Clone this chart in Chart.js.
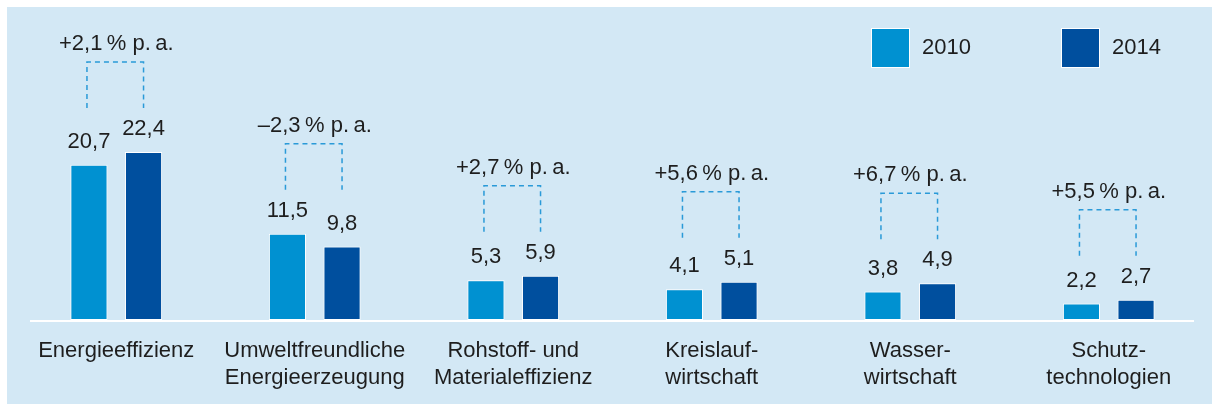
<!DOCTYPE html>
<html>
<head>
<meta charset="utf-8">
<script src="https://cdn.jsdelivr.net/npm/chart.js@4/dist/chart.umd.min.js"></script>
<style>
  html, body { margin: 0; padding: 0; background: #fff; }
  #wrap { width: 1212px; height: 404px; position: relative; }
</style>
</head>
<body>
<div id="wrap"><canvas id="myChart"></canvas></div>
<script>
// data
const categories = [
    ['Energieeffizienz'],
    ['Umweltfreundliche', 'Energieerzeugung'],
    ['Rohstoff- und', 'Materialeffizienz'],
    ['Kreislauf-', 'wirtschaft'],
    ['Wasser-', 'wirtschaft'],
    ['Schutz-', 'technologien']
];
const series2010 = [20.7, 11.5, 5.3, 4.1, 3.8, 2.2];
const series2014 = [22.4, 9.8, 5.9, 5.1, 4.9, 2.7];
const growth = ['+2,1', '\u20132,3', '+2,7', '+5,6', '+6,7', '+5,5'];
const seriesNames = ['2010', '2014'];

const FONT = '"Liberation Sans", Arial, sans-serif';
const TEXT = '#1e1e1e';
const BG = '#d3e8f5';
const colors = ['#0091d1', '#004f9e'];

function fmt(v) {
    return v.toFixed(1).replace('.', ',');
}

const decor = {
    id: 'decor',
    beforeDraw(chart) {
        const ctx = chart.ctx;
        ctx.save();
        ctx.fillStyle = '#ffffff';
        ctx.fillRect(0, 0, chart.width, chart.height);
        ctx.fillStyle = BG;
        ctx.fillRect(7, 7, chart.width - 7, chart.height - 7);
        // baseline
        const y0 = chart.scales.y.getPixelForValue(0);
        ctx.strokeStyle = '#ffffff';
        ctx.lineWidth = 2;
        ctx.beginPath();
        ctx.moveTo(30, y0 + 1);
        ctx.lineTo(1194, y0 + 1);
        ctx.stroke();
        ctx.restore();
    },
    afterDatasetsDraw(chart) {
        const ctx = chart.ctx;
        const m0 = chart.getDatasetMeta(0).data;
        const m1 = chart.getDatasetMeta(1).data;
        ctx.save();
        ctx.font = '22px ' + FONT;
        ctx.fillStyle = TEXT;
        ctx.textAlign = 'center';
        ctx.textBaseline = 'middle';
        m0.forEach(function (b0, i) {
            const b1 = m1[i];
            ctx.fillText(fmt(series2010[i]), b0.x, b0.y - 23);
            ctx.fillText(fmt(series2014[i]), b1.x, b1.y - 23);
            const top = Math.min(b0.y, b1.y);
            // bracket
            ctx.save();
            ctx.strokeStyle = '#2a9ad8';
            ctx.lineWidth = 1.5;
            ctx.setLineDash([5, 4]);
            ctx.beginPath();
            ctx.moveTo(b0.x - 2, top - 44);
            ctx.lineTo(b0.x - 2, top - 90);
            ctx.lineTo(b1.x, top - 90);
            ctx.lineTo(b1.x, top - 44);
            ctx.stroke();
            ctx.restore();
            ctx.fillText(growth[i] + '\u2009% p.\u2009a.', (b0.x + b1.x) / 2, top - 108);
        });
        // legend
        ctx.textAlign = 'left';
        const lx = [872, 1062];
        seriesNames.forEach(function (name, k) {
            ctx.fillStyle = '#ffffff';
            ctx.fillRect(lx[k] - 1, 28, 39, 40);
            ctx.fillStyle = colors[k];
            ctx.fillRect(lx[k], 29, 37, 38);
            ctx.fillStyle = TEXT;
            ctx.fillText(name, lx[k] + 50, 48);
        });
        ctx.restore();
    }
};

new Chart(document.getElementById('myChart'), {
    type: 'bar',
    data: {
        labels: categories,
        datasets: [{
            label: seriesNames[0],
            data: series2010,
            backgroundColor: colors[0],
            borderColor: '#ffffff',
            borderWidth: 1,
            borderSkipped: false
        }, {
            label: seriesNames[1],
            data: series2014,
            backgroundColor: colors[1],
            borderColor: '#ffffff',
            borderWidth: 1,
            borderSkipped: false
        }]
    },
    options: {
        responsive: true,
        maintainAspectRatio: false,
        animation: false,
        datasets: {
            bar: { categoryPercentage: 0.55, barPercentage: 0.68 }
        },
        layout: { padding: { top: 20, left: 17, right: 4, bottom: 0 } },
        plugins: {
            legend: { display: false },
            tooltip: { enabled: false }
        },
        scales: {
            y: { display: false, min: 0, max: 40 },
            x: {
                grid: { display: false, drawTicks: false },
                border: { display: false },
                afterFit: function (scale) { scale.height = 84; },
                ticks: {
                    color: TEXT,
                    padding: 17,
                    maxRotation: 0,
                    autoSkip: false,
                    font: { family: FONT, size: 22, lineHeight: 1.25 }
                }
            }
        }
    },
    plugins: [decor]
});
</script>
</body>
</html>
